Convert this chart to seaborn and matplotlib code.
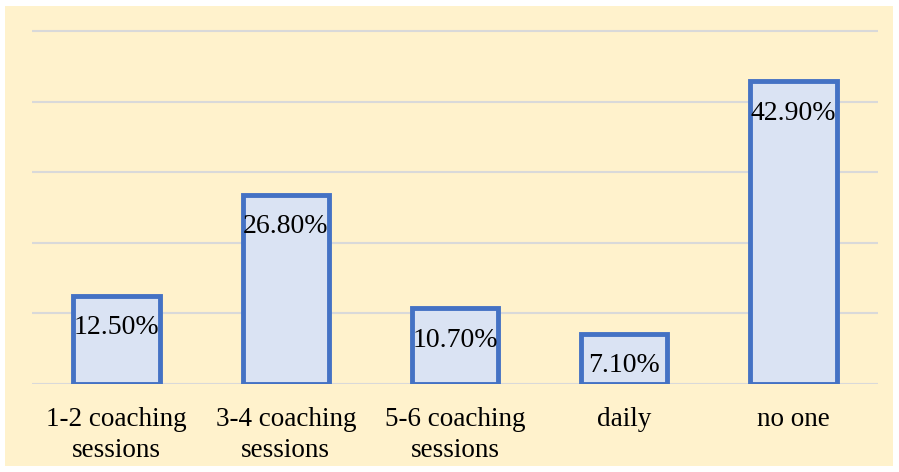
import matplotlib
matplotlib.use("Agg")
import matplotlib.pyplot as plt
import seaborn as sns
import pandas as pd
from matplotlib.patches import Rectangle

# --- data ---
categories = ["1-2 coaching\nsessions", "3-4 coaching\nsessions", "5-6 coaching\nsessions", "daily", "no one"]
values = [12.5, 26.8, 10.7, 7.1, 42.9]
labels = ["12.50%", "26.80%", "10.70%", "7.10%", "42.90%"]

df = pd.DataFrame({"cat": categories, "val": values})

plt.rcParams["font.family"] = ["Liberation Serif", "DejaVu Serif"]

fig = plt.figure(figsize=(8.99, 4.72), dpi=100, facecolor="white")
# yellow panel behind the chart
fig.patches.append(Rectangle((5 / 899, 6 / 472), 888 / 899, 460 / 472,
                             transform=fig.transFigure, facecolor="#FFF2CC",
                             edgecolor="none", zorder=-10))
ax = fig.add_axes([32 / 899, 88 / 472, 846 / 899, 355 / 472])
ax.set_facecolor("none")

sns.barplot(data=df, x="cat", y="val", ax=ax, width=0.51,
            color="#DAE3F3", edgecolor="#4472C4", linewidth=3.5, saturation=1)

ax.set_ylim(0, 50.3)
ax.set_yticks([0, 10, 20, 30, 40, 50])
ax.yaxis.grid(True, color="#D9D9D9", linewidth=1.5)
ax.set_axisbelow(True)
ax.tick_params(axis="y", left=False, labelleft=False)
ax.tick_params(axis="x", bottom=False, labelsize=19.5, pad=13)
for t in ax.get_xticklabels():
    t.set_linespacing(1.3)
for s in ax.spines.values():
    s.set_visible(False)
ax.set_xlabel("")
ax.set_ylabel("")

# value labels inside the bar tops
for i, (v, lab) in enumerate(zip(values, labels)):
    ax.annotate(lab, (i, v), xytext=(0, -23), textcoords="offset points",
                ha="center", va="center", fontsize=20, color="black")

fig.savefig("out.png", dpi=100, facecolor=fig.get_facecolor())
